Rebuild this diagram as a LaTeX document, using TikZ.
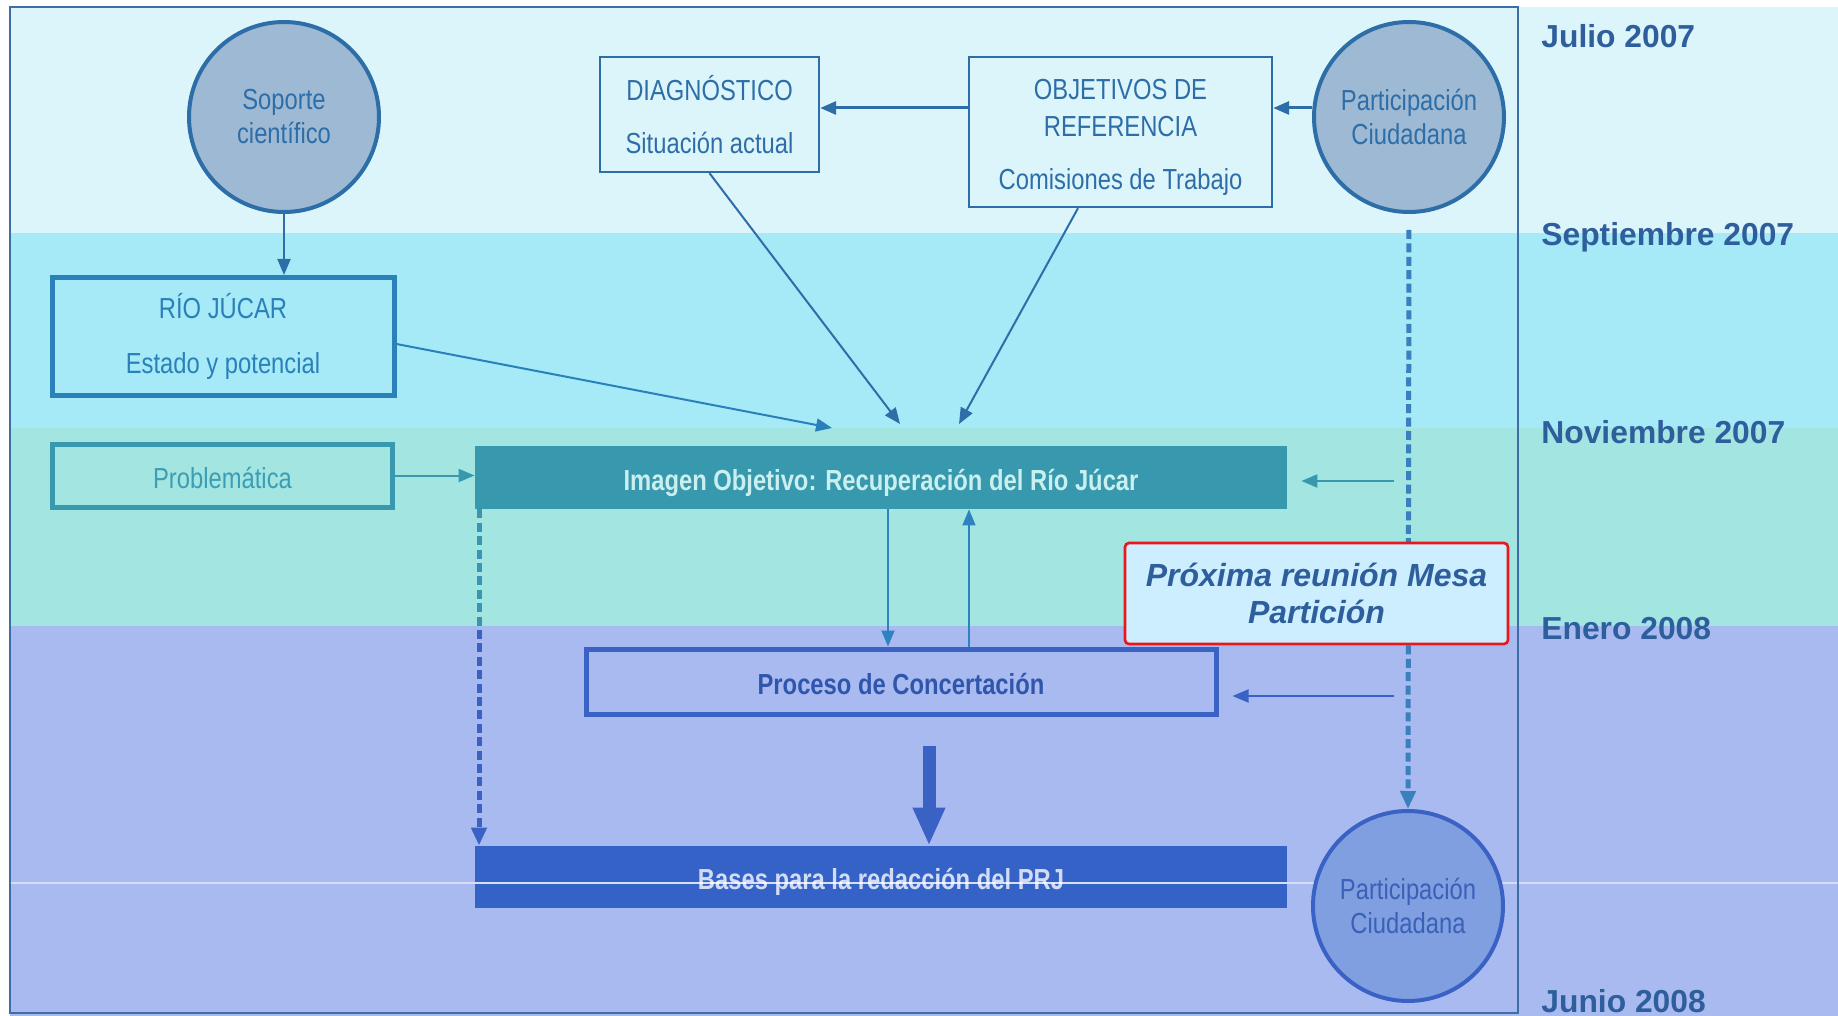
\documentclass[tikz,border=0pt]{standalone}
\usepackage{fontspec}
\setmainfont{Liberation Sans}
\newfontfamily\narrowfont[FakeStretch=0.82]{Liberation Sans}
\usetikzlibrary{arrows.meta}
\definecolor{bandA}{HTML}{DCF5FB}
\definecolor{bandB}{HTML}{A6E9F7}
\definecolor{bandC}{HTML}{A3E5E0}
\definecolor{bandD}{HTML}{A9BAF0}
\definecolor{dblue}{HTML}{2E6EA8}
\definecolor{rioblue}{HTML}{2A80B9}
\definecolor{teal}{HTML}{3798AE}
\definecolor{tealtxt}{HTML}{3C9DB4}
\definecolor{imgtxt}{HTML}{C9EFEF}
\definecolor{procblue}{HTML}{3A62C4}
\definecolor{proctxt}{HTML}{2F56AC}
\definecolor{basesblue}{HTML}{3462C6}
\definecolor{basestxt}{HTML}{D3DCF5}
\definecolor{circfill}{HTML}{9EB9D3}
\definecolor{circfillb}{HTML}{809FE0}
\definecolor{circtxtb}{HTML}{3A60B8}
\definecolor{proxfill}{HTML}{CDEEFE}
\definecolor{proxred}{HTML}{E8171B}
\definecolor{monthtxt}{HTML}{2E5E9C}
\definecolor{framec}{HTML}{3D6EA5}
\definecolor{midblue}{HTML}{2D82C0}
\definecolor{dotblue}{HTML}{3A80BE}
\definecolor{dotteal}{HTML}{3A95B2}
\begin{document}
\begin{tikzpicture}[x=0.5pt,y=-0.5pt,
  nfont/.style={font=\narrowfont\fontsize{14.5}{17}\selectfont},
  bnfont/.style={font=\narrowfont\bfseries\fontsize{14.5}{17}\selectfont},
  month/.style={font=\bfseries\fontsize{15.9}{19}\selectfont, text=monthtxt, anchor=west, inner sep=0pt, text depth=0pt},
  boxnode/.style={rectangle, inner sep=0pt, align=center},
  oneline/.style={text height=12.5pt, text depth=0pt},
  circnode/.style={circle, draw=dblue, fill=circfill, line width=2pt, inner sep=0pt, minimum size=95pt, align=center, nfont, text=dblue},
  arr/.style={-{Triangle[length=8pt,width=6.5pt]}, line width=1pt},
  dotarr/.style={-{Triangle[length=9pt,width=7.5pt]}, line width=2.5pt, dash pattern=on 4.5pt off 2.2pt},
  bigarr/.style={-{Triangle[length=19pt,width=15pt]}, line width=6.5pt}
]
\clip (0,0) rectangle (1838,1016);
\fill[white] (0,0) rectangle (1838,1016);
\fill[bandA] (10,7) rectangle (1838,233);
\fill[bandB] (10,233) rectangle (1838,428);
\fill[bandC] (10,428) rectangle (1838,626);
\fill[bandD] (10,626) rectangle (1838,1016);
\draw[white, line width=0.6pt, opacity=0.5] (10,883) -- (1838,883);
\draw[framec, line width=0.8pt] (10,7) rectangle (1518,1013);

% month labels
\node[month] (m1) at (1541,36) {Julio 2007};
\node[month] (m2) at (1541,234) {Septiembre 2007};
\node[month] (m3) at (1541,432) {Noviembre 2007};
\node[month] (m4) at (1541,628) {Enero 2008};
\node[month] (m5) at (1541,1001) {Junio 2008};

% column / row helper coordinates
\coordinate (c108) at (0,108);
\coordinate (x479) at (479,0);
\coordinate (x888) at (888,0);
\coordinate (x969) at (969,0);
\coordinate (x929) at (929,0);
\coordinate (ysplit) at (0,626);

% nodes
\node[circnode] (sop) at (284,117) {Soporte\\científico};
\node[circnode] (ptop) at (1409,117) {Participación\\Ciudadana};
\node[circnode, draw=procblue, fill=circfillb, text=circtxtb] (pbot) at (1408,906) {Participación\\Ciudadana};

\node[boxnode, draw=rioblue, line width=2.5pt, minimum width=171pt, minimum height=59pt, nfont, text=rioblue] (rio) at (223,336.5) {\rule{0pt}{12pt}RÍO JÚCAR\\[10.5pt]Estado y potencial};
\node[boxnode, oneline, draw=teal, line width=2.5pt, minimum width=170pt, minimum height=31.5pt, nfont, text=tealtxt] (prob) at (222.5,475.5) {Problemática};
\node[boxnode, oneline, fill=teal, minimum width=406pt, minimum height=31.5pt, bnfont, text=imgtxt] (img) at (881,477.5) {Imagen Objetivo: Recuperación del Río Júcar};
\node[boxnode, draw=dblue, line width=1.2pt, minimum width=109.5pt, minimum height=57.5pt, nfont, text=dblue] (diag) at (709.5,114.5) {DIAGNÓSTICO\\[9.8pt]Situación actual};
\node[boxnode, draw=dblue, line width=1.2pt, minimum width=151.5pt, minimum height=75pt, nfont, text=dblue] (obj) at (1120.5,132) {\rule{0pt}{15.5pt}OBJETIVOS DE\\[1.5pt]REFERENCIA\\[9.5pt]Comisiones de Trabajo};
\node[boxnode, oneline, draw=procblue, line width=2.5pt, minimum width=315pt, minimum height=32.5pt, bnfont, text=proctxt] (proc) at (901,681.5) {Proceso de Concertación};
\node[boxnode, oneline, fill=basesblue, minimum width=406pt, minimum height=31pt, bnfont, text=basestxt] (bases) at (881,877) {Bases para la redacción del PRJ};
\draw[white, line width=0.6pt, opacity=0.8] (bases.west |- 0,883) -- (bases.east |- 0,883);

% free-end coordinates
\coordinate (t1) at (832,428);
\coordinate (t2) at (900,424);
\coordinate (t3) at (959,424);
\coordinate (r1) at (1394,481);
\coordinate (r2) at (1394,696);
\coordinate (b1) at (929,746);

% connectors
\draw[arr, dblue] (sop.south) -- (sop.south |- rio.north);
\draw[arr, rioblue] ([yshift=-3.75pt]rio.east) -- (t1);
\draw[arr, dblue] (diag.south) -- (t2);
\draw[arr, dblue] ([xshift=-21.25pt]obj.south) -- (t3);
\draw[arr, dblue, line width=1.5pt] (obj.west |- c108) -- (diag.east |- c108);
\draw[arr, dblue, line width=1.5pt] (ptop.west |- c108) -- (obj.east |- c108);
\draw[arr, teal] (prob.east) -- (prob.east -| img.west);
\draw[arr, midblue, line width=0.8pt] (img.south -| x888) -- (proc.north -| x888);
\draw[arr, midblue, line width=0.8pt] (proc.north -| x969) -- (img.south -| x969);
\draw[arr, teal, shorten >=7pt] (r1) -- (img.east |- r1);
\draw[arr, procblue, shorten >=7pt] (r2) -- (proc.east |- r2);
\draw[bigarr, procblue] (b1) -- (bases.north -| x929);
\draw[dotarr, procblue] (img.south -| x479) -- (bases.north -| x479);
\draw[dotteal, line width=2.5pt, dash pattern=on 4.5pt off 2.2pt] (img.south -| x479) -- (x479 |- ysplit);
\draw[dotarr, dotblue, shorten <=8pt] (ptop.south) -- (pbot.north);

% note box
\node[boxnode, draw=proxred, fill=proxfill, line width=1.3pt, rounded corners=2pt, minimum width=191.5pt, minimum height=50.5pt, font=\bfseries\itshape\fontsize{16}{18.75}\selectfont, text=monthtxt] (prox) at (1316.5,593.5) {Próxima reunión Mesa\\Partición};
\end{tikzpicture}
\end{document}
